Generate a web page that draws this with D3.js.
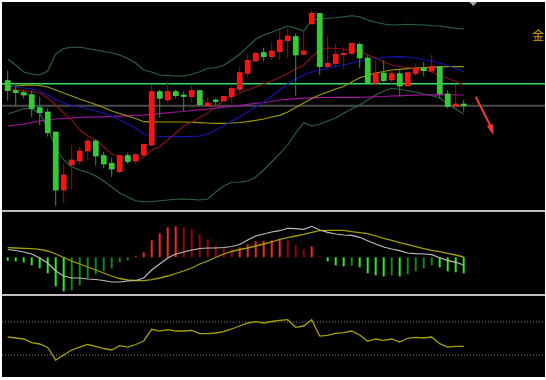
<!DOCTYPE html>
<html><head><meta charset="utf-8">
<script src="https://cdn.jsdelivr.net/npm/d3@7"></script>
<style>html,body{margin:0;padding:0;background:#fff;}svg{display:block;}</style>
</head><body>
<svg id="c" width="546" height="380"></svg>
<script>
// ---- data ----
const opens  = [1919.3,1909.3,1907.3,1905.3,1892.3,1888,1868,1810,1835,1839,1849,1859,1844.3,1836.7,1828.3,1844.3,1839,1845,1855,1908.3,1900,1908.3,1905,1903.3,1909.3,1894.3,1900,1899,1903.3,1910.7,1926.7,1939,1947.3,1943.3,1948.3,1959.3,1963.3,1945.7,1976,1986.7,1933.3,1936.5,1945.3,1946.7,1955.7,1942,1916.7,1927,1920,1926.3,1914,1926.7,1931.7,1929,1933.3,1906,1893.3,1896];
const highs  = [1929.3,1914,1910,1909.3,1903.3,1891.7,1868,1836.7,1855,1853.3,1861.7,1861,1848.3,1842.3,1845.7,1847.3,1846.7,1856.7,1915,1910.7,1919,1910.7,1908.7,1914.3,1910,1902.7,1902,1904,1914,1933.3,1945.7,1948.3,1952.3,1957.7,1970,1971.7,1966.7,1968.3,1990,1986.7,1964,1956.7,1952.7,1957.7,1957.7,1945,1939.5,1939.7,1930,1930,1928.5,1936.7,1938,1945,1933.3,1910,1915,1900];
const lows   = [1899.3,1894,1901.7,1882.7,1875,1863.3,1794,1796.7,1810.7,1835,1840,1834.3,1831.7,1823.3,1826.7,1836,1836,1844,1853.3,1882.7,1897.3,1901.7,1889,1897.7,1893.3,1893.3,1894.7,1899,1897.3,1908.3,1922.7,1938.3,1938.7,1940,1940,1942,1904.3,1945,1976,1925,1931.7,1933.3,1931,1945,1931.7,1915,1914.5,1917.5,1916,1904,1914,1924,1923.7,1928.5,1901.7,1891.7,1893.3,1888.3];
const closes = [1909.3,1907.3,1905,1891.7,1887.3,1867.3,1810,1825,1840,1849,1859,1844,1836,1831,1844.3,1838.3,1845.3,1855.7,1908.3,1901.7,1908.3,1904.3,1903.7,1909.3,1895.3,1897,1898.7,1903.7,1911.7,1927.3,1939.7,1946.7,1943.3,1949,1960,1964,1945,1949,1986.7,1933.3,1936.7,1945.7,1946.7,1956.7,1942,1916.7,1927,1919.3,1926.3,1914,1927.3,1931.7,1929.2,1933.3,1906.3,1893.7,1896,1894.2];

const bollUpper = [1941,1935,1928,1926,1925,1929,1946,1951.5,1952.7,1952.7,1951.5,1950,1948.5,1947.3,1945,1941.5,1937,1930,1928,1925,1924.5,1924,1924,1925.7,1928.3,1931.7,1932.3,1934.7,1940,1945.7,1953.3,1960.7,1965,1967.7,1971,1974,1971.7,1969,1980,1981,1981.7,1982.3,1983.3,1984.3,1983.3,1980,1977.7,1976,1975,1975.3,1975.7,1975.3,1975,1974.3,1974,1972.7,1971.7,1971];
const bollLower = [1886,1888.5,1891.5,1891,1887,1872,1852,1840,1833.3,1830,1827.5,1824,1819,1813,1807,1803,1799.3,1798.3,1798.3,1799.3,1800,1800.7,1801,1800.5,1800,1801,1808,1814,1817.7,1818,1819,1823,1830,1838,1846.3,1855,1867,1877.3,1874,1875.7,1879,1882,1886.7,1891,1895,1900,1905,1909,1911.7,1910.5,1909.5,1908,1906,1904.5,1902,1896,1891,1886];
const maRed    = [1911.5,1910.5,1909.3,1908.5,1907,1902,1895,1887,1880,1870,1864,1860,1853,1846,1843.3,1841.5,1840.7,1843,1850,1853.3,1860,1867,1874,1878,1882.5,1887,1893.5,1900,1904,1907,1910,1913,1916,1919,1922.5,1926.5,1931,1935,1943,1950.5,1952,1951.5,1951,1950,1949.3,1945,1942,1938,1935,1933.5,1932.5,1931.5,1930,1928,1924.5,1921.5,1918.5,1915];
const maBlue   = [1915,1913,1912,1911,1909,1905,1900.5,1897,1894.5,1893,1891,1889,1887,1884,1880,1876.3,1871.7,1866,1864,1863.5,1863.3,1863.3,1863.3,1863.5,1864,1866,1870,1874,1879,1883,1888,1893,1898,1904,1910,1916,1921,1925,1928,1930,1931.5,1933.5,1935,1937,1939,1940.5,1941.5,1942.5,1943.2,1943.3,1943,1942,1940.5,1939,1937,1934.5,1931.5,1928.3];
const maOlive  = [1913,1914,1914.7,1915,1914.5,1913,1910,1907,1904,1901,1898.3,1895.5,1892.5,1889,1886.5,1884,1881.5,1878.3,1878.2,1878,1878,1878,1878,1877.7,1877.3,1877,1876.7,1876.7,1877,1877.5,1878.3,1879.7,1881,1883,1884.7,1888,1892.5,1897,1901.5,1905,1908,1911,1913.5,1918,1922.3,1924.5,1927,1928.5,1930,1930.7,1931.3,1932,1932.5,1932.7,1933,1933.3,1933.3,1933.3];
const maPurple = [1874,1875,1876,1877.5,1879.2,1880,1881,1881.5,1881.8,1882.5,1882.8,1883,1883.2,1883.5,1883.8,1884.2,1884.6,1885,1885.7,1886.5,1887.2,1888,1888.5,1889.5,1890.2,1891,1891.8,1892.8,1893.5,1894.4,1895.7,1896.7,1897.5,1898.5,1900,1900.7,1901.3,1901.8,1902.2,1902.4,1902.5,1902.6,1902.7,1902.7,1902.7,1903,1903.2,1903.5,1904,1904.2,1904.5,1904.8,1905,1905.2,1905.3,1905.2,1905,1905];
const levels = [1916.3, 1894.3];

const macdHist = [-3.5,-4,-5,-8,-11,-16,-29,-34,-33,-28,-21,-17,-14,-11,-5,-3,1,5,17,24,30,31,30,28,23,18,12,10,8,10,13,16,16.5,17,17.5,17,12,8,11,1,-4,-8,-9,-8.5,-10,-16,-18,-19,-18,-19,-17,-14,-11,-8,-10,-14,-15,-16];
const macdDif  = [7.8,6.8,5.3,3.3,-0.7,-5.7,-13.7,-18.7,-20.7,-20.7,-21.7,-22.2,-23.2,-24.7,-24.7,-23.7,-23.2,-20.7,-12.7,-6.7,-0.7,3.3,5.3,7.3,8.8,9.3,9.3,9.8,10.8,12.8,17.3,21.3,23.3,25.3,26.6,29,28.6,28,31,27.3,25,23.3,22.3,22,20,16.6,13.3,10.3,8.3,6.6,4.3,3.6,3.3,2.6,-0.4,-3,-5,-7.7];
const macdDea  = [9.6,9.3,9,8.6,8,6.3,3.3,-0.2,-3.7,-6.7,-9.7,-12.7,-15.7,-18.7,-21.2,-22.7,-23.2,-23.4,-22.4,-20.7,-18.7,-16.2,-13.7,-10.7,-6.7,-3.7,-0.2,3.3,5.8,7.8,9.3,11.3,13.3,15.3,18,19.6,21.3,23,25,26.6,27,27,27,25.6,24.6,23.6,21.3,19,17,14.6,12.6,10.6,8.6,7,5.6,4,2.3,0.3];

const rsi = [52.7,50.9,49.1,42.7,40,33.6,10.9,20,29.1,34.5,39.1,35.5,31.8,29.1,36.9,34.5,39.1,45.5,66.7,63.6,66,63.6,63.6,64.9,58.7,58.7,60,62.7,67.3,72.7,78.2,80.5,78.2,80.9,83.1,84.2,70.4,72.7,84.2,54.5,55.8,59.5,60.5,63.6,56.4,44.9,49.1,46.7,49.1,43.6,50.4,52.2,50.9,52.7,40.5,34.5,35.8,35.8];
const rsiBands = [80, 20];
const labelText = "金";

// ---- drawing ----
const W = 546, H = 380;
const svg = d3.select("#c");
svg.append("rect").attr("width", W).attr("height", H).attr("fill", "#ffffff");
svg.append("rect").attr("x", 2).attr("y", 2).attr("width", W - 3).attr("height", H - 5).attr("fill", "#000");

const idx = d3.range(opens.length);
const x = d3.scaleLinear().domain([0, 57]).range([7.7, 463.7]);
const y = d3.scaleLinear().domain([2000, 1789]).range([0, 211]);
const ym = d3.scaleLinear().domain([0, 40]).range([257.3, 217.3]);
const yr = d3.scaleLinear().domain([20, 80]).range([355, 322]);

const main = svg.append("g");
main.selectAll("line.lvl").data(levels).join("line")
  .attr("x1", 2).attr("x2", W - 1)
  .attr("y1", d => y(d)).attr("y2", d => y(d))
  .attr("stroke", (d, i) => i === 0 ? "#34e060" : "#4a4a4a")
  .attr("stroke-width", (d, i) => i === 0 ? 1.6 : 2);

function drawLine(g, arr, sx, sy, color, w) {
  g.append("path").datum(arr)
    .attr("d", d3.line().x((d, i) => sx(i)).y(d => sy(d)))
    .attr("fill", "none").attr("stroke", color).attr("stroke-width", w);
}
drawLine(main, bollUpper, x, y, "#2a6547", 1.1);
drawLine(main, bollLower, x, y, "#2a6547", 1.1);
drawLine(main, maPurple, x, y, "#a012a0", 1.2);
drawLine(main, maOlive, x, y, "#9c9a00", 1.2);
drawLine(main, maBlue, x, y, "#1414b4", 1.2);
drawLine(main, maRed, x, y, "#8c1212", 1.2);

const cg = main.append("g");
const up = i => closes[i] >= opens[i];
cg.selectAll("line.wick").data(idx).join("line")
  .attr("x1", i => x(i)).attr("x2", i => x(i))
  .attr("y1", i => y(highs[i])).attr("y2", i => y(lows[i]))
  .attr("stroke", i => up(i) ? "#b80000" : "#1e9e1e").attr("stroke-width", 1);
cg.selectAll("rect.body").data(idx).join("rect")
  .attr("x", i => x(i) - 2.5).attr("width", 5)
  .attr("y", i => y(Math.max(opens[i], closes[i])))
  .attr("height", i => Math.max(1.5, Math.abs(y(opens[i]) - y(closes[i]))))
  .attr("fill", i => up(i) ? "#ff1010" : "#30cc30")
  .attr("stroke", i => up(i) ? "#ff2a2a" : "#4be04b").attr("stroke-width", 0.6);

svg.selectAll("line.sep").data([211, 295]).join("line")
  .attr("x1", 2).attr("x2", W - 1).attr("y1", d => d).attr("y2", d => d)
  .attr("stroke", "#bdbdbd").attr("stroke-width", 2);

const mg = svg.append("g");
mg.selectAll("line.h").data(idx).join("line")
  .attr("x1", i => x(i)).attr("x2", i => x(i))
  .attr("y1", ym(0)).attr("y2", i => ym(macdHist[i]))
  .attr("stroke", i => {
    const v = macdHist[i], p = i > 0 ? macdHist[i - 1] : 0;
    if (v >= 0) return v >= p ? "#ff2020" : "#a00000";
    return v <= p ? "#22ee22" : "#108a10";
  })
  .attr("stroke-width", 2);
drawLine(mg, macdDea, x, ym, "#a4a000", 1.3);
drawLine(mg, macdDif, x, ym, "#bdbdbd", 1.2);

const rg = svg.append("g");
rg.selectAll("line.band").data(rsiBands).join("line")
  .attr("x1", 2).attr("x2", W - 1).attr("y1", d => yr(d)).attr("y2", d => yr(d))
  .attr("stroke", "#8a8a8a").attr("stroke-width", 1).attr("stroke-dasharray", "1,2");
drawLine(rg, rsi, x, yr, "#a8a000", 1.3);

const ax0 = x(58.5), ay0 = y(1903.3), ax1 = x(60.7), ay1 = y(1865);
svg.append("line").attr("x1", ax0).attr("y1", ay0).attr("x2", x(60.35)).attr("y2", y(1874))
  .attr("stroke", "#f03a3a").attr("stroke-width", 2);
svg.append("path")
  .attr("d", `M${ax1},${ay1} L${x(59.9)},${y(1874)} L${x(60.7)},${y(1876)} Z`)
  .attr("fill", "#f03a3a");
const mx = x(58.2);
svg.append("path").attr("d", `M${mx - 4},2 L${mx + 4},2 L${mx},6 Z`).attr("fill", "#9aa3b5");
svg.append("text").attr("x", 532).attr("y", 40).text(labelText)
  .attr("fill", "#c8a400").attr("font-size", 12)
  .attr("font-family", "'Noto Sans CJK SC', sans-serif");
</script>
</body></html>
